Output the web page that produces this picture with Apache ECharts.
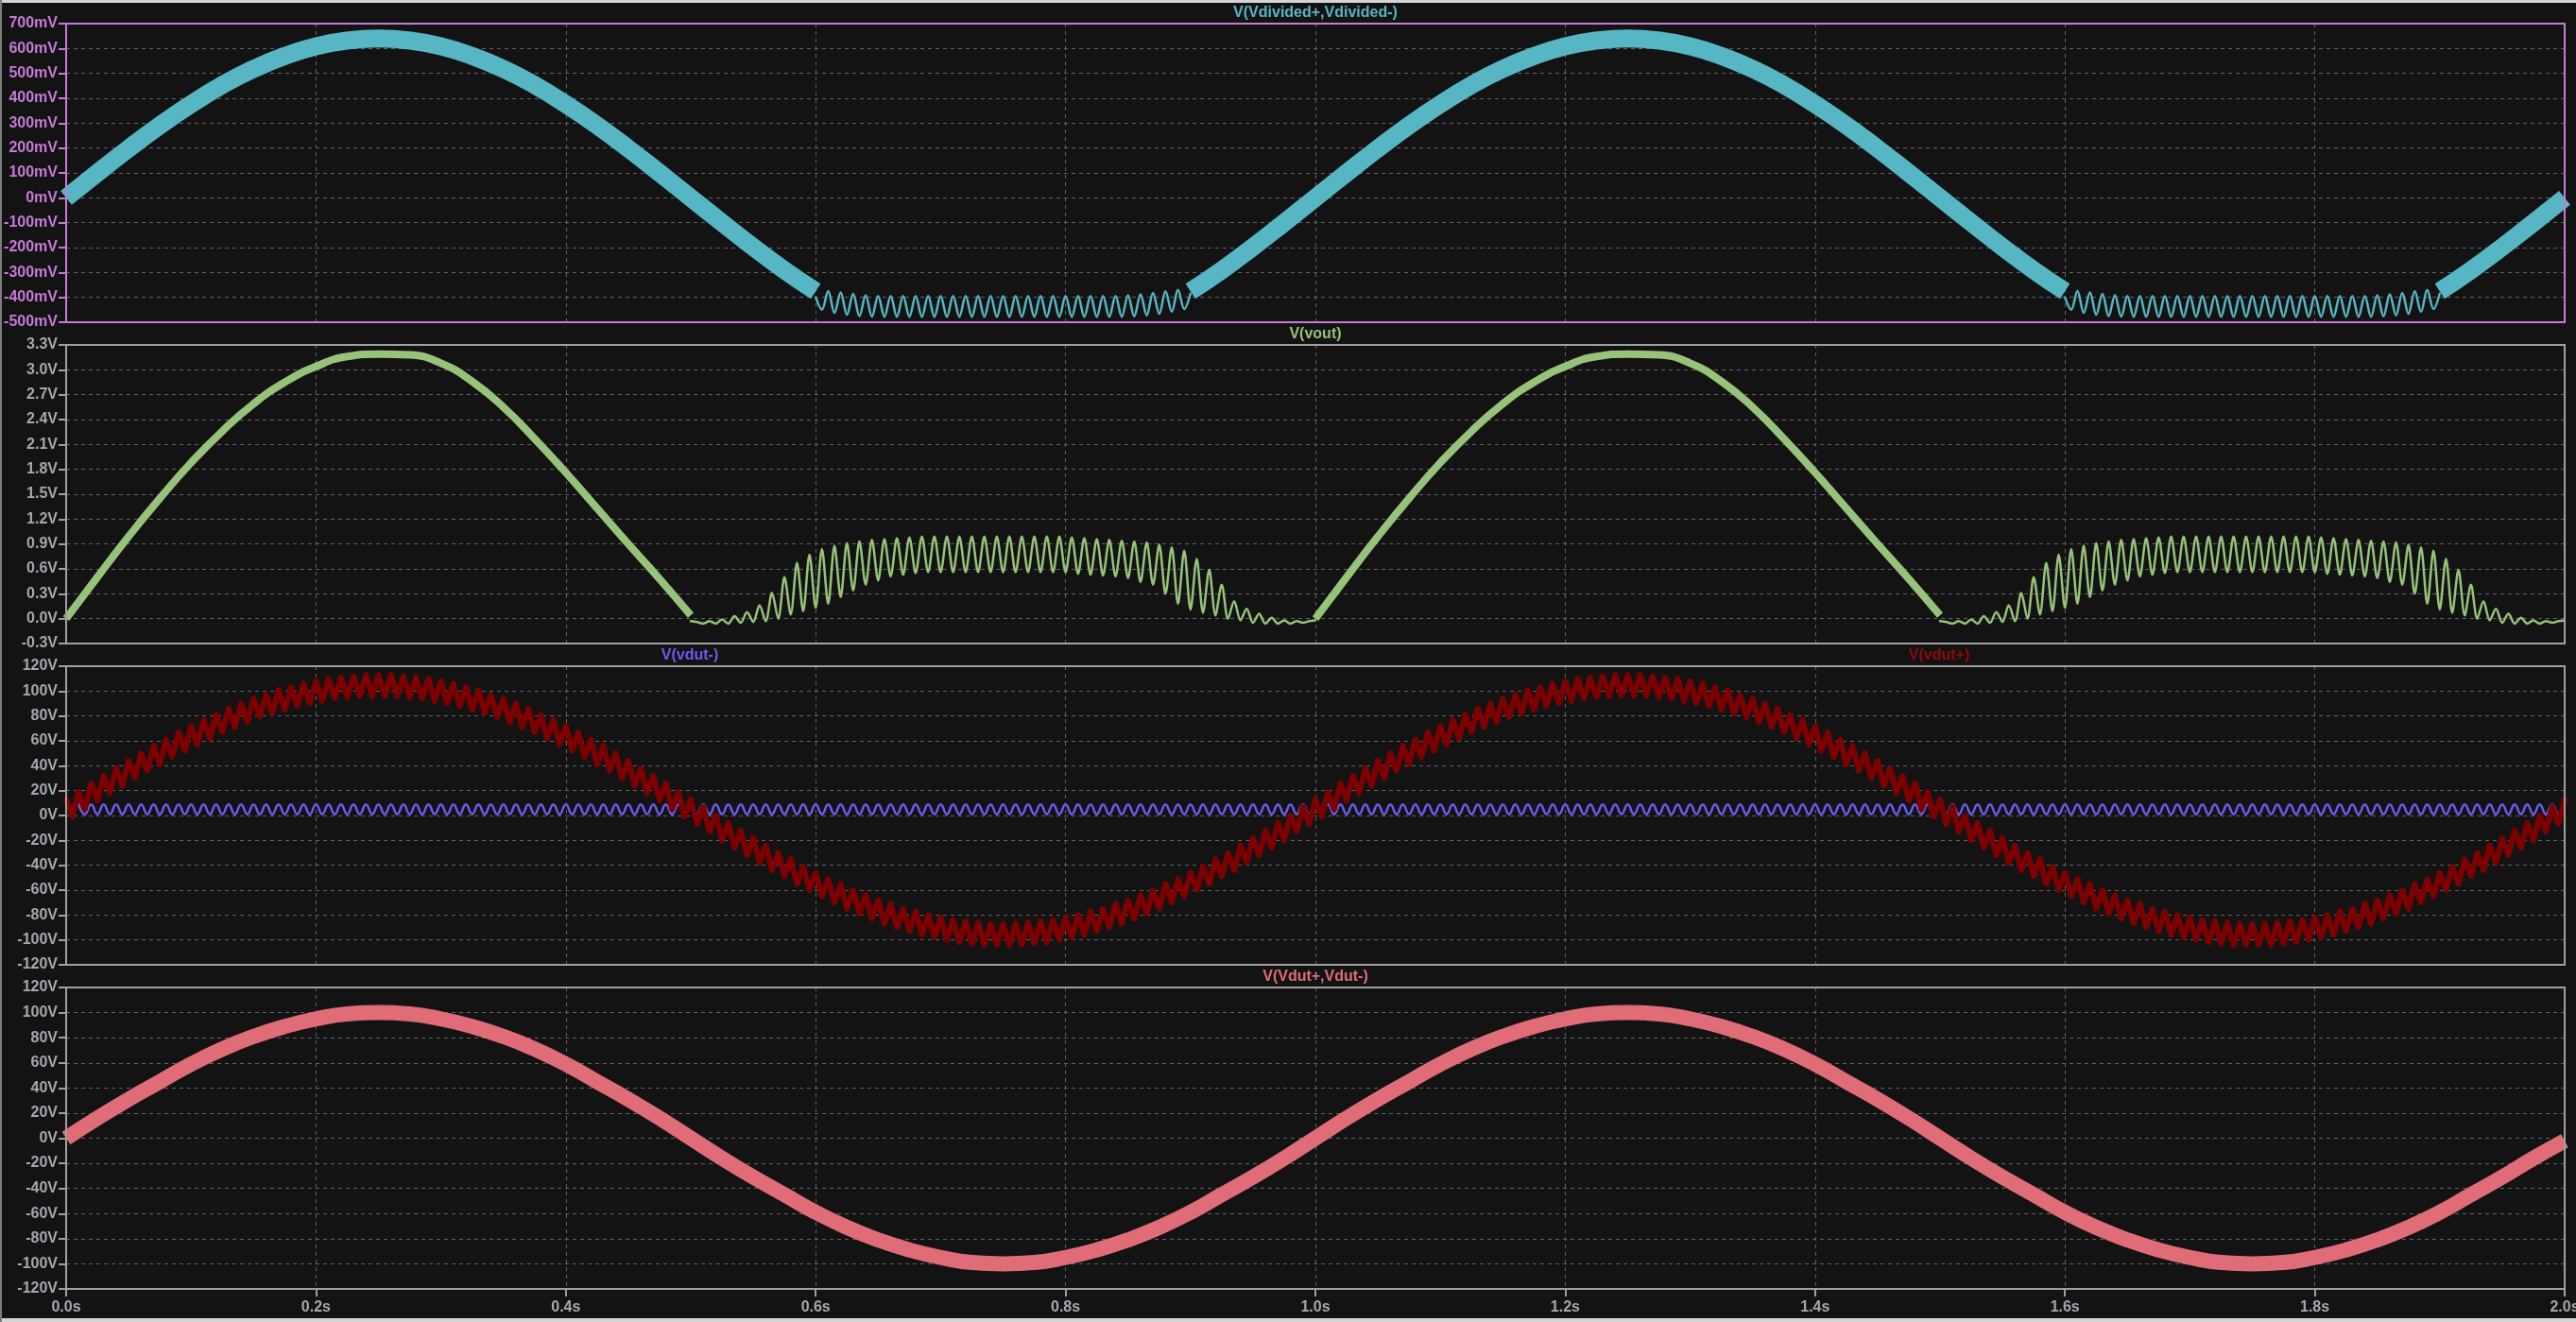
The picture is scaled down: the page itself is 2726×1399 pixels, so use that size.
<!DOCTYPE html>
<html><head><meta charset="utf-8">
<script src="https://cdn.jsdelivr.net/npm/echarts@6/dist/echarts.min.js"></script>
<style>html,body{margin:0;padding:0;background:#131313;overflow:hidden}#c{width:2726px;height:1399px}</style>
</head><body><div id="c"></div>
<script>
// ---- sampling ----
const BAND_STEP = 0.025;   // s, for the thick (noise-filled) traces
const RIPPLE_STEP = 0.005; // s, for the resolved 100 Hz ripple

// ---- axes ----
const timeAxis = [0, 2, 0.2];          // min, max, interval (s)
const vdividedAxis = [-500, 700, 100]; // mV
const voutAxis = [-0.3, 3.3, 0.3];     // V
const vdutAxis = [-120, 120, 20];      // V
const diffAxis = [-120, 120, 20];      // V

// ---- V(Vdivided+,Vdivided-) [mV] : thick band, 0.025 s grid, null where clipped ----
const vdividedBand = [0,100,198,291,376,453,518,570,609,632,640,632,609,570,518,453,376,291,198,100,0,-100,-198,-291,-376,
 null,null,null,null,null,null,null,null,null,null,null,
 -376,-291,-198,-100,0,100,198,291,376,453,518,570,609,632,640,632,609,570,518,453,376,291,198,100,0,-100,-198,-291,-376,
 null,null,null,null,null,null,null,null,null,null,null,
 -376,-291,-198,-100,0];
// clipped region ripple [mV], 0.005 s grid
const vdividedClip = [-400,-450,-375,-462,-380,-470,-386,-475,-392,-477,
 -395,-478,-395,-478,-395,-478,-395,-478,-395,-478,-395,-478,-395,-478,-395,-478,-395,-478,-395,-478,
 -395,-478,-395,-478,-395,-478,-395,-478,-395,-478,-395,-478,-395,-478,-395,-478,-395,-478,-395,-478,
 -392,-476,-388,-472,-382,-466,-376,-458,-370,-447,-385];
const vdividedClipStarts = [0.6, 1.6];

// ---- V(vout) [V] ----
const voutBand = [0.00,0.50,0.99,1.45,1.88,2.26,2.59,2.85,3.04,3.16,3.19,3.18,3.08,2.86,2.55,2.17,1.76,1.33,0.90,0.48,0.04,
 null,null,null,null,null,null,null,null,null,null,null,null,null,null,null,null,null,null,null,
 0.00,0.50,0.99,1.45,1.88,2.26,2.59,2.85,3.04,3.16,3.19,3.18,3.08,2.86,2.55,2.17,1.76,1.33,0.90,0.48,0.04,
 null,null,null,null,null,null,null,null,null,null,null,null,null,null,null,null,null,null,null,
 0.03];
const voutRipple = [-0.03,
 -0.04,-0.06,-0.03,-0.06,-0.01,-0.06,0.03,-0.05,0.08,-0.04,0.16,-0.03,0.31,0.00,0.50,0.05,0.67,0.09,0.77,0.13,
 0.84,0.18,0.88,0.26,0.91,0.34,0.93,0.41,0.95,0.46,0.96,0.51,0.97,0.53,0.98,0.55,0.99,0.56,0.99,0.56,
 0.99,0.56,0.99,0.56,0.99,0.56,0.99,0.56,0.99,0.56,0.99,0.56,0.99,0.56,0.99,0.56,0.99,0.56,0.99,0.56,
 0.98,0.54,0.97,0.53,0.96,0.52,0.95,0.51,0.94,0.49,0.93,0.44,0.92,0.41,0.89,0.30,0.86,0.18,0.82,0.11,
 0.72,0.07,0.59,0.04,0.41,0.00,0.21,-0.02,0.12,-0.05,0.06,-0.06,0.01,-0.06,-0.02,-0.06,-0.03,-0.05,-0.03,-0.02];
const voutRippleStarts = [0.5, 1.5];

// ---- V(vdut-) [V], 0.005 s grid from t=0 (401 samples) ----
const vdutMinus = [null,null,
 9,1,9,1,9,1,9,1,9,1,9,1,9,1,9,1,9,1,9,1, 9,1,9,1,9,1,9,1,9,1,9,1,9,1,9,1,9,1,9,1,
 9,1,9,1,9,1,9,1,9,1,9,1,9,1,9,1,9,1,9,1, 9,1,9,1,9,1,9,1,9,1,9,1,9,1,9,1,9,1,9,1,
 9,1,9,1,9,1,9,1,9,1,9,1,9,1,9,1,9,1,9,1, 9,1,9,1,9,1,9,1,9,1,9,1,9,1,9,1,9,1,9,1,
 9,1,9,1,9,1,9,1,9,1,9,1,9,1,9,1,9,1,9,1, 9,1,9,1,9,1,9,1,9,1,9,1,9,1,9,1,9,1,9,1,
 9,1,9,1,9,1,9,1,9,1,9,1,9,1,9,1,9,1,9,1, 9,1,9,1,9,1,9,1,9,1,9,1,9,1,9,1,9,1,9,1,
 9,1,9,1,9,1,9,1,9,1,9,1,9,1,9,1,9,1,9,1, 9,1,9,1,9,1,9,1,9,1,9,1,9,1,9,1,9,1,9,1,
 9,1,9,1,9,1,9,1,9,1,9,1,9,1,9,1,9,1,9,1, 9,1,9,1,9,1,9,1,9,1,9,1,9,1,9,1,9,1,9,1,
 9,1,9,1,9,1,9,1,9,1,9,1,9,1,9,1,9,1,9,1, 9,1,9,1,9,1,9,1,9,1,9,1,9,1,9,1,9,1,9,1,
 9,1,9,1,9,1,9,1,9,1,9,1,9,1,9,1,9,1,9,1, 9,1,9,1,9,1,9,1,9,1,9,1,9,1,9,1,9,1,9,1,
 9,1,9,1,9,1,9,1,9,1,9,1,9,1,9,1,9,1,9,1, 9,1,9,1,9,1,9,1,9,1,9,1,9,1,9,1,9,1,9];

// ---- V(vdut+) [V], 0.005 s grid from t=0 (401 samples) ----
const vdutPlus = [13,-1,19,5,26,12,32,18,38,24,44,30,50,36,56,41,61,47,67,52,72,57,77,62,81,67,86,71,90,75,94,79,97,82,101,85,103,88,106,90,108,92,110,94,111,95,112,96,113,96,113,
 96,113,96,112,95,111,94,110,92,108,90,106,88,103,85,101,82,97,79,94,75,90,71,86,67,81,62,77,57,72,52,67,47,61,41,56,36,50,30,44,24,38,18,32,12,26,5,19,-1,13,
 -7,7,-13,0,-20,-6,-26,-12,-32,-18,-38,-24,-44,-30,-49,-35,-55,-41,-60,-46,-65,-51,-70,-55,-75,-60,-79,-64,-83,-68,-87,-71,-90,-75,-93,-77,-96,-80,-98,-82,-100,-84,-102,-85,-103,-86,-104,-87,-104,-87,
 -104,-87,-104,-86,-103,-85,-102,-84,-100,-82,-98,-80,-96,-77,-93,-75,-90,-71,-87,-68,-83,-64,-79,-60,-75,-55,-70,-51,-65,-46,-60,-41,-55,-35,-49,-30,-44,-24,-38,-18,-32,-12,-26,-6,-20,0,-13,7,-7,13,
 -1,19,5,26,12,32,18,38,24,44,30,50,36,56,41,61,47,67,52,72,57,77,62,81,67,86,71,90,75,94,79,97,82,101,85,103,88,106,90,108,92,110,94,111,95,112,96,113,96,113,
 96,113,96,112,95,111,94,110,92,108,90,106,88,103,85,101,82,97,79,94,75,90,71,86,67,81,62,77,57,72,52,67,47,61,41,56,36,50,30,44,24,38,18,32,12,26,5,19,-1,13,
 -7,7,-13,0,-20,-6,-26,-12,-32,-18,-38,-24,-44,-30,-49,-35,-55,-41,-60,-46,-65,-51,-70,-55,-75,-60,-79,-64,-83,-68,-87,-71,-90,-75,-93,-77,-96,-80,-98,-82,-100,-84,-102,-85,-103,-86,-104,-87,-104,-87,
 -104,-87,-104,-86,-103,-85,-102,-84,-100,-82,-98,-80,-96,-77,-93,-75,-90,-71,-87,-68,-83,-64,-79,-60,-75,-55,-70,-51,-65,-46,-60,-41,-55,-35,-49,-30,-44,-24,-38,-18,-32,-12,-26,-6,-20,0,-13,7,-7,13];

// ---- V(Vdut+,Vdut-) [V], thick band, 0.025 s grid ----
const vdutDiff = [0,16,31,45,59,71,81,89,95,99,100,99,95,89,81,71,59,45,31,16,0,-16,-31,-45,-59,-71,-81,-89,-95,-99,-100,-99,-95,-89,-81,-71,-59,-45,-31,-16,0,
 16,31,45,59,71,81,89,95,99,100,99,95,89,81,71,59,45,31,16,0,-16,-31,-45,-59,-71,-81,-89,-95,-99,-100,-99,-95,-89,-81,-71,-59,-45,-31,-16,-2];

// ---- titles ----
const titles = [
  {text: 'V(Vdivided+,Vdivided-)', color: '#57b6c3', pane: 0, x: 'mid'},
  {text: 'V(vout)', color: '#97c279', pane: 1, x: 'mid'},
  {text: 'V(vdut-)', color: '#6a5cf0', pane: 2, x: 730},
  {text: 'V(vdut+)', color: '#8e0a0a', pane: 2, x: 2052},
  {text: 'V(Vdut+,Vdut-)', color: '#e06c78', pane: 3, x: 'mid'}
];

// ---- layout / style ----
const L = 70, W = 2644;
const panes = [{top: 25, h: 316}, {top: 365, h: 316}, {top: 705, h: 316}, {top: 1045, h: 319}];
const FONT = 'Liberation Sans';
const GRID_DASH = '#636363';
const PURPLE = '#c67bd8', GRAY = '#a0a0a0', LABEL_GRAY = '#a3a9b1';

function pairs(vals, start, step) {
  return vals.map((v, i) => [Math.round((start + i * step) * 10000) / 10000, v === null ? '-' : v]);
}

const grids = panes.map((p, i) => ({
  left: L, top: p.top, width: W, height: p.h, show: true, z: 10,
  backgroundColor: 'transparent', borderColor: i === 0 ? PURPLE : GRAY, borderWidth: 2,
  containLabel: false, outerBoundsMode: 'none'
}));

const xAxes = panes.map((p, i) => ({
  type: 'value', gridIndex: i, min: timeAxis[0], max: timeAxis[1], interval: timeAxis[2],
  axisLine: {show: false, onZero: false},
  axisTick: {show: i === 3, length: 8, lineStyle: {color: GRAY, width: 2}},
  axisLabel: {show: i === 3, margin: 12, color: LABEL_GRAY, fontFamily: FONT, fontWeight: 'bold', fontSize: 16,
    formatter: v => v.toFixed(1) + 's'},
  splitLine: {show: true, lineStyle: {color: GRID_DASH, type: [4, 4], width: 1}}
}));

const yRanges = [vdividedAxis, voutAxis, vdutAxis, diffAxis];
const yFmt = [
  v => Math.round(v) + 'mV',
  v => (Math.abs(v) < 1e-9 ? 0 : v).toFixed(1) + 'V',
  v => Math.round(v) + 'V',
  v => Math.round(v) + 'V'
];
const yAxes = yRanges.map((r, i) => ({
  type: 'value', gridIndex: i, min: r[0], max: r[1], interval: r[2],
  axisLine: {show: false, onZero: false},
  axisTick: {show: true, length: 8, lineStyle: {color: i === 0 ? PURPLE : GRAY, width: 2}},
  axisLabel: {margin: 9, color: i === 0 ? PURPLE : LABEL_GRAY, fontFamily: FONT, fontWeight: 'bold', fontSize: 16,
    formatter: yFmt[i]},
  splitLine: {show: true, lineStyle: {color: GRID_DASH, type: [4, 4], width: 1}}
}));

function line(idx, data, color, width, smooth, cap) {
  return {
    type: 'line', xAxisIndex: idx, yAxisIndex: idx, data: data, showSymbol: false, symbol: 'none',
    smooth: smooth, connectNulls: false, animation: false, silent: true,
    lineStyle: {color: color, width: width, cap: cap || 'round', join: 'round'}
  };
}

const CYAN = '#57b6c3', GREEN = '#97c279', BLUE = '#6a5cf0', DARKRED = '#7c0000', SALMON = '#e06c78';
const series = [
  line(0, pairs(vdividedBand, 0, BAND_STEP), CYAN, 19, true, 'butt'),
  ...vdividedClipStarts.map(s => line(0, pairs(vdividedClip, s, RIPPLE_STEP), CYAN, 2.5, 0.35)),
  line(1, pairs(voutBand, 0, BAND_STEP), GREEN, 8, true, 'butt'),
  ...voutRippleStarts.map(s => line(1, pairs(voutRipple, s, RIPPLE_STEP), GREEN, 2.5, 0.3)),
  line(2, pairs(vdutMinus, 0, RIPPLE_STEP), BLUE, 2.5, 0.5),
  line(2, pairs(vdutPlus, 0, RIPPLE_STEP), DARKRED, 6, false),
  line(3, pairs(vdutDiff, 0, BAND_STEP), SALMON, 16, true, 'butt')
];

const graphics = [
  {type: 'rect', shape: {x: 0, y: 0, width: 2726, height: 3}, style: {fill: '#d4d4d4'}},
  {type: 'rect', shape: {x: 0, y: 1395, width: 2726, height: 4}, style: {fill: '#d4d4d4'}},
  {type: 'rect', shape: {x: 0, y: 0, width: 2, height: 1399}, style: {fill: '#7c7c7c'}}
].concat(titles.map(t => ({
  type: 'text', x: t.x === 'mid' ? L + W / 2 : t.x, y: panes[t.pane].top - 11,
  style: {text: t.text, fill: t.color, font: 'bold 16px "' + FONT + '"',
    align: 'center', verticalAlign: 'middle', textAlign: 'center', textVerticalAlign: 'middle'}
})));

const chart = echarts.init(document.getElementById('c'), null, {renderer: 'canvas'});
chart.setOption({
  backgroundColor: '#131313',
  animation: false,
  grid: grids, xAxis: xAxes, yAxis: yAxes, series: series, graphic: graphics
});
</script></body></html>
